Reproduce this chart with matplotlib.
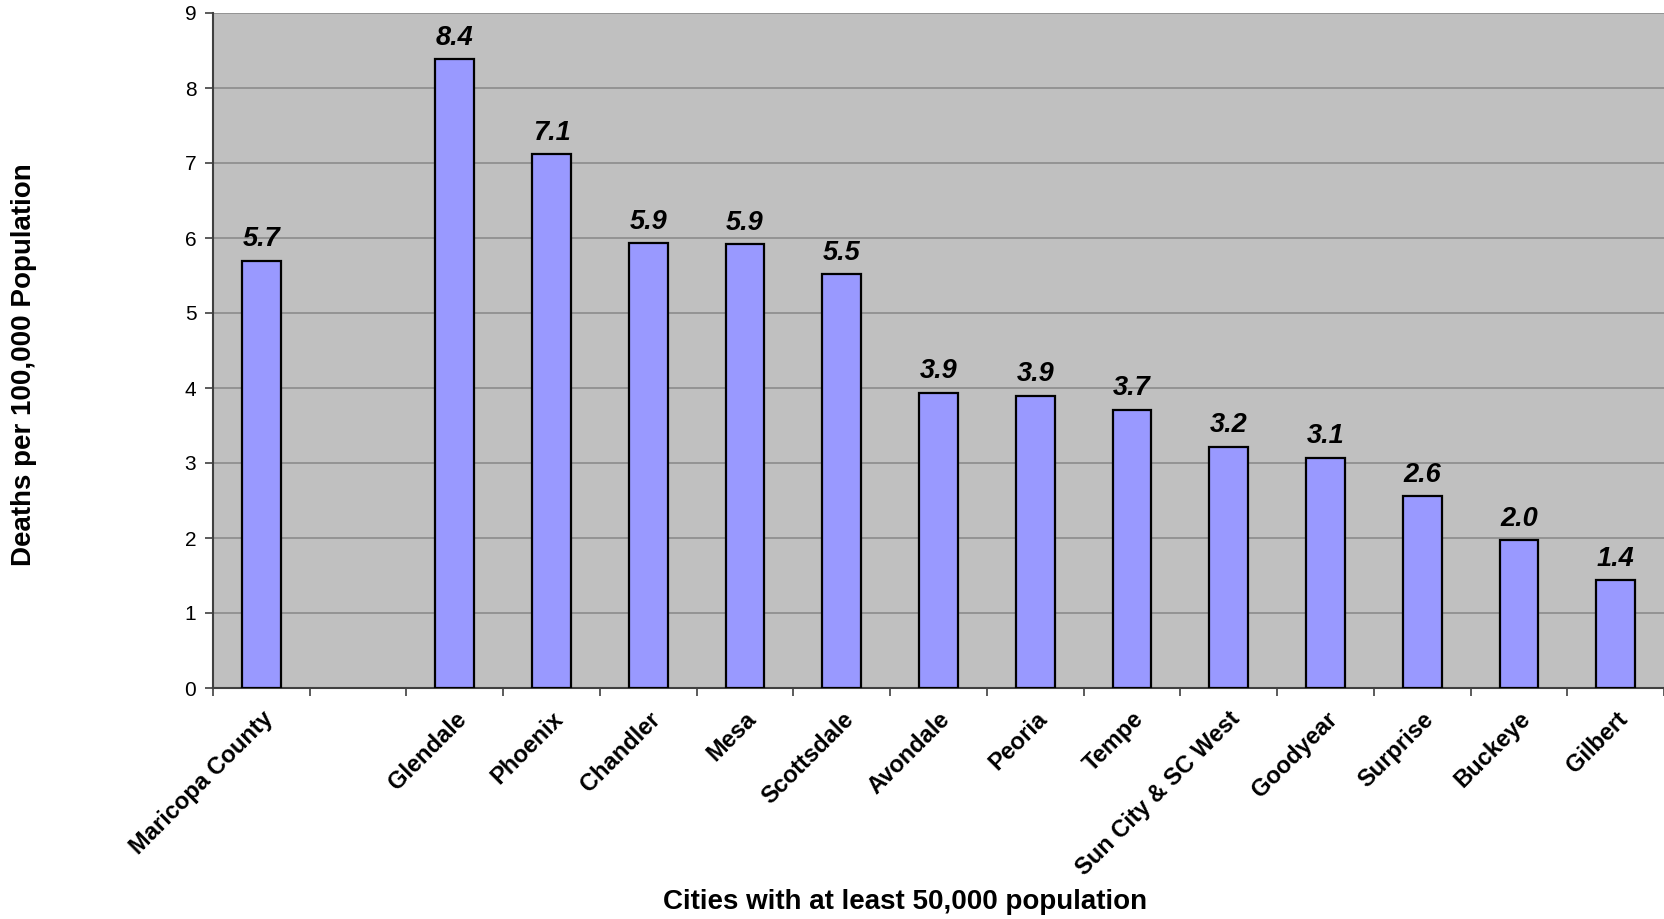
import matplotlib
matplotlib.use("Agg")
import matplotlib.pyplot as plt
import numpy as np

categories = ["Maricopa County", "", "Glendale", "Phoenix", "Chandler", "Mesa",
              "Scottsdale", "Avondale", "Peoria", "Tempe", "Sun City & SC West",
              "Goodyear", "Surprise", "Buckeye", "Gilbert"]
values = [5.70, None, 8.38, 7.12, 5.93, 5.92, 5.52, 3.94, 3.90, 3.71, 3.22,
          3.07, 2.56, 1.97, 1.44]
yticks = [0, 1, 2, 3, 4, 5, 6, 7, 8, 9]

plt.rcParams['font.family'] = ['Liberation Sans', 'DejaVu Sans']

fig = plt.figure(figsize=(16.64, 9.19), dpi=100)
ax = fig.add_axes([213/1664, 1 - 688/919, 1 - 213/1664, (688 - 13)/919])
ax.set_facecolor('#C0C0C0')

x = np.arange(len(categories))
for xi, v in zip(x, values):
    if v is None:
        continue
    ax.bar(xi, v, width=0.4, color='#9999FF', edgecolor='black', linewidth=1.6, zorder=3)
    ax.annotate(f"{v:.1f}", (xi, v), xytext=(0, 6), textcoords='offset points',
                ha='center', va='bottom', fontsize=19.5, fontweight='bold',
                fontstyle='italic', zorder=4)

ax.set_xlim(-0.5, len(categories) - 0.5)
ax.set_ylim(0, 9)
ax.set_yticks(yticks)
ax.yaxis.grid(True, color='#8C8C8C', linewidth=1.2, zorder=0)
ax.set_axisbelow(True)
ax.tick_params(axis='y', labelsize=15, length=6, width=1.2, color='#404040', pad=6)

ax.set_xticks(x)
ax.set_xticklabels(categories, rotation=45, ha='right', rotation_mode='anchor',
                   fontsize=17, fontweight='bold')
ax.tick_params(axis='x', which='major', length=0, pad=14)
ax.set_xticks(np.arange(-0.5, len(categories), 1.0), minor=True)
ax.tick_params(axis='x', which='minor', length=6, width=1.2, color='#404040')

for s in ['top', 'right']:
    ax.spines[s].set_visible(False)
ax.spines['left'].set_color('#404040')
ax.spines['bottom'].set_color('#404040')
ax.spines['left'].set_linewidth(1.5)
ax.spines['bottom'].set_linewidth(1.5)

fig.text(24/1664, 1 - 365/919, "Deaths per 100,000 Population", rotation=90,
         ha='center', va='center', fontsize=20, fontweight='bold')
fig.text(905/1664, 1 - 902/919, "Cities with at least 50,000 population",
         ha='center', va='center', fontsize=20, fontweight='bold')

fig.savefig("out.png", dpi=100)
